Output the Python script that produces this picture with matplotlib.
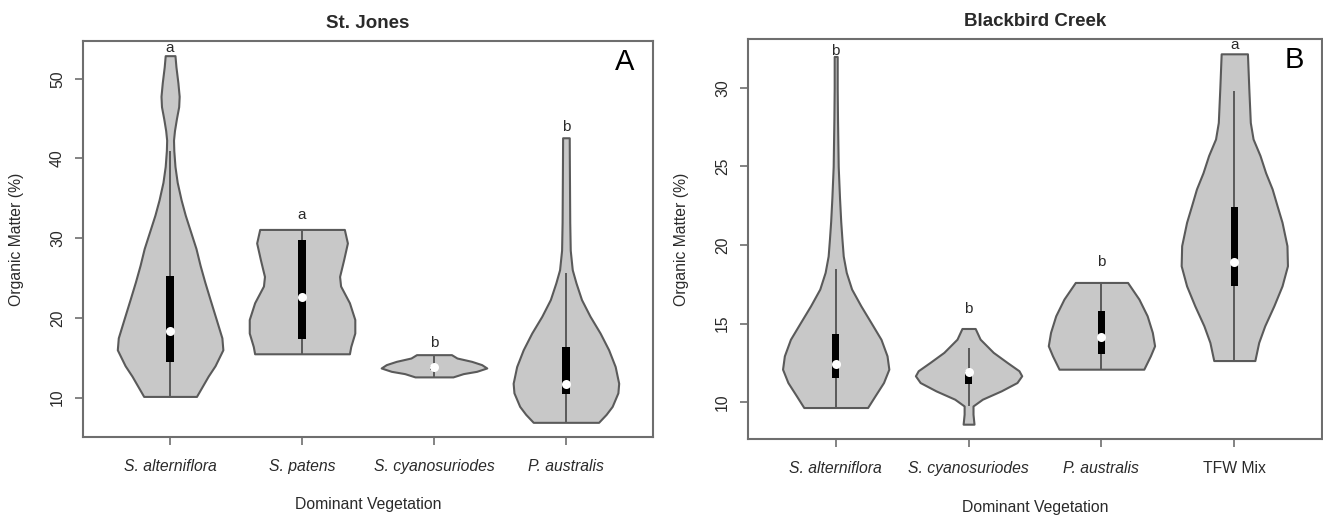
import matplotlib
matplotlib.use("Agg")
import matplotlib.pyplot as plt
import numpy as np

plt.rcParams['font.family'] = ['Liberation Sans', 'DejaVu Sans']

# ---------------- data ----------------
# Panel A: St. Jones
sj_categories = ["S. alterniflora", "S. patens", "S. cyanosuriodes", "P. australis"]
sj_italic = [True, True, True, True]
sj_letters = ["a", "a", "b", "b"]
sj_letter_y = [53.9, 32.9, 16.86, 44.0]

# violin profiles: y levels (Organic Matter %) and relative density (half-width)
sj_alt_y = [10.15, 11.0, 12.7, 14.0, 16.0, 17.5, 19.9, 22.4, 24.5, 26.6, 28.7, 30.8, 32.9,
            34.8, 37.0, 39.0, 41.0, 42.3, 43.5, 45.0, 46.5, 47.8, 49.5, 51.5, 52.9]
sj_alt_d = [27, 31, 39, 46, 54, 53, 47, 40.7, 35.5, 30.7, 26.5, 21, 15.5,
            11.3, 7.3, 5, 3.8, 3.5, 4.5, 6.5, 8.8, 9.3, 8.0, 6.0, 5.0]
sj_pat_y = [15.5, 16.4, 18.1, 19.8, 21.9, 24.0, 25.2, 27.3, 29.4, 31.1]
sj_pat_d = [46.7, 48, 52, 52, 46.7, 38, 37, 41, 44.7, 41.7]
sj_cya_y = [12.6, 13.01, 13.30, 13.72, 14.14, 14.55, 14.97, 15.39]
sj_cya_d = [19, 29.3, 42.7, 52.8, 47.7, 37.7, 23, 17.5]
sj_aus_y = [6.9, 7.9, 8.9, 10.6, 11.8, 13.9, 16.0, 18.1, 20.2, 22.3, 24.4, 26.05,
            28.5, 32.0, 36.0, 40.0, 42.6]
sj_aus_d = [32.5, 40, 46, 51.7, 52.5, 49, 42.5, 34, 24, 15.5, 10, 6.3,
            4.3, 3.8, 3.6, 3.4, 3.3]

sj_q1 = [14.5, 17.4, 13.5, 10.5]
sj_q3 = [25.2, 29.8, 13.95, 16.4]
sj_median = [18.3, 22.6, 13.85, 11.76]
sj_whisk_lo = [10.15, 15.5, 12.6, 6.9]
sj_whisk_hi = [40.9, 31.1, 15.39, 25.6]

# Panel B: Blackbird Creek
bb_categories = ["S. alterniflora", "S. cyanosuriodes", "P. australis", "TFW Mix"]
bb_italic = [True, True, True, False]
bb_letters = ["b", "b", "b", "a"]
bb_letter_y = [32.38, 15.92, 18.9, 32.7]

bb_alt_y = [9.66, 10.4, 11.25, 12.1, 12.95, 14.0, 15.07, 16.13, 17.2, 18.26, 19.3,
            20.38, 21.5, 23.0, 25.0, 28.0, 30.0, 32.0]
bb_alt_d = [31.7, 39, 47.5, 52.8, 51, 45, 35, 25, 15.8, 10.5, 7.5,
            6.2, 5, 3.8, 2.5, 1.8, 1.5, 1.5]
bb_cya_y = [8.6, 9.24, 9.76, 10.19, 10.72, 11.25, 11.68, 12.0, 12.53, 13.17, 14.01, 14.69]
bb_cya_d = [5.5, 4.5, 4.5, 14, 33, 49, 53.8, 51, 39, 25, 11.7, 6.7]
bb_aus_y = [12.1, 12.95, 13.59, 14.44, 15.5, 16.56, 17.62]
bb_aus_d = [43.3, 50, 54.3, 52, 46.7, 38.3, 26.7]
bb_tfw_y = [12.65, 13.8, 14.86, 16.13, 17.4, 18.68, 19.96, 21.45, 22.5, 23.57, 24.6,
            25.7, 26.75, 27.8, 29.94, 32.17]
bb_tfw_d = [20.8, 24.7, 30.8, 40, 48.3, 53.8, 53.3, 48.3, 43.3, 38.3, 31.7,
            26, 19, 16.2, 14.7, 13.3]

bb_q1 = [11.57, 11.15, 13.06, 17.4]
bb_q3 = [14.33, 12.0, 15.82, 22.4]
bb_median = [12.42, 11.93, 14.18, 18.9]
bb_whisk_lo = [9.66, 9.76, 12.1, 12.65]
bb_whisk_hi = [18.47, 13.48, 17.62, 29.83]

# ---------------- styling ----------------
FILL = "#c8c8c8"
EDGE = "#5a5a5a"
FRAME = "#6e6e6e"
TEXT = "#2a2a2a"

fig = plt.figure(figsize=(13.23, 5.16), dpi=100)
axA = fig.add_axes([83 / 1323, 1 - 437 / 516, 570 / 1323, 396 / 516])
axB = fig.add_axes([748 / 1323, 1 - 439 / 516, 574 / 1323, 400 / 516])


def draw_panel(ax, title, tag, cats, italic, profiles, q1, q3, med, wlo, whi,
               letters, letter_y, yticks, xlab_y):
    n = len(cats)
    pos = np.arange(1, n + 1)
    stats = []
    for (yy, dd), m in zip(profiles, med):
        yy = np.asarray(yy, float)
        dd = np.asarray(dd, float)
        stats.append(dict(coords=yy, vals=dd, mean=m, median=m,
                          min=yy.min(), max=yy.max()))
    parts = ax.violin(stats, positions=pos, widths=0.8, showmeans=False,
                      showextrema=False, showmedians=False)
    for b in parts['bodies']:
        b.set_facecolor(FILL)
        b.set_edgecolor(EDGE)
        b.set_linewidth(1.5)
        b.set_alpha(1)
        b.set_zorder(2)
    ax.vlines(pos, wlo, whi, color=EDGE, lw=1.4, zorder=3)
    ax.bar(pos, np.array(q3) - np.array(q1), bottom=q1, width=0.055,
           color="black", zorder=4)
    ax.scatter(pos, med, s=42, color="white", zorder=5, linewidths=0)
    for p, l, ly in zip(pos, letters, letter_y):
        ax.text(p, ly, l, ha="center", va="center", fontsize=11, color=TEXT, zorder=6)

    lo = min(min(p[0]) for p in profiles)
    hi = max(max(p[0]) for p in profiles)
    r = hi - lo
    ax.set_ylim(lo - 0.04 * r, hi + 0.04 * r)
    ax.set_xlim(0.5 - 0.16, n + 0.5 + 0.16)
    ax.set_xticks(pos)
    ax.set_xticklabels(cats)
    for t, it in zip(ax.get_xticklabels(), italic):
        t.set_fontstyle("italic" if it else "normal")
    ax.set_yticks(yticks)
    ax.set_yticklabels([str(v) for v in yticks], rotation=90, va="center")
    ax.tick_params(axis="both", direction="out", length=6, width=1.2,
                   color=FRAME, labelcolor=TEXT, labelsize=11.3)
    ax.tick_params(axis="x", pad=10)
    ax.tick_params(axis="y", pad=7)
    for s in ax.spines.values():
        s.set_color(FRAME)
        s.set_linewidth(1.5)
    ax.set_title(title, fontsize=13.5, fontweight="bold", color=TEXT, pad=9)
    ax.set_ylabel("Organic Matter (%)", fontsize=11.3, color=TEXT)
    ax.set_xlabel("Dominant Vegetation", fontsize=11.3, color=TEXT)
    ax.yaxis.set_label_coords(-0.103, 0.5)
    ax.xaxis.set_label_coords(0.5, xlab_y)
    ax.text(0.951, 0.947, tag, transform=ax.transAxes, ha="center", va="center",
            fontsize=21, color="black")


draw_panel(axA, "St. Jones", "A", sj_categories, sj_italic,
           [(sj_alt_y, sj_alt_d), (sj_pat_y, sj_pat_d), (sj_cya_y, sj_cya_d), (sj_aus_y, sj_aus_d)],
           sj_q1, sj_q3, sj_median, sj_whisk_lo, sj_whisk_hi,
           sj_letters, sj_letter_y, [10, 20, 30, 40, 50], -0.152)
draw_panel(axB, "Blackbird Creek", "B", bb_categories, bb_italic,
           [(bb_alt_y, bb_alt_d), (bb_cya_y, bb_cya_d), (bb_aus_y, bb_aus_d), (bb_tfw_y, bb_tfw_d)],
           bb_q1, bb_q3, bb_median, bb_whisk_lo, bb_whisk_hi,
           bb_letters, bb_letter_y, [10, 15, 20, 25, 30], -0.153)

fig.savefig("out.png", dpi=100)
